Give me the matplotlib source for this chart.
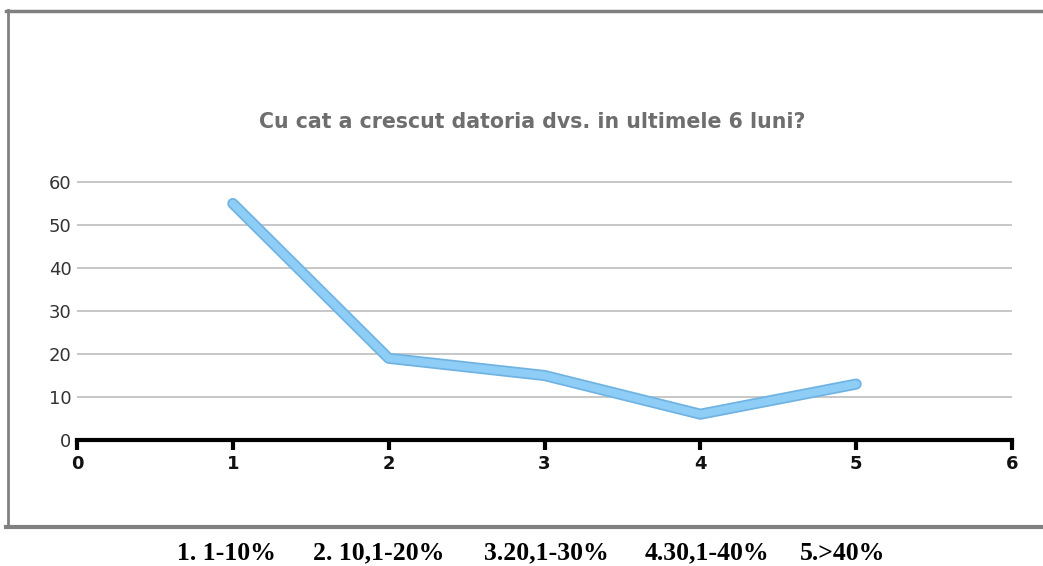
import matplotlib
matplotlib.use("Agg")
import matplotlib.pyplot as plt
from matplotlib.lines import Line2D

# Data
x_values = [1, 2, 3, 4, 5]
y_values = [55, 19, 15, 6, 13]
x_ticks = [0, 1, 2, 3, 4, 5, 6]
y_ticks = [0, 10, 20, 30, 40, 50, 60]
title = "Cu cat a crescut datoria dvs. in ultimele 6 luni?"
legend_labels = ["1. 1-10%", "2. 10,1-20%", "3.20,1-30%", "4.30,1-40%", "5.>40%"]

W, H = 1043, 566
fig = plt.figure(figsize=(W / 100, H / 100), dpi=100)
fig.patch.set_facecolor("white")

def fx(px):
    return px / W
def fy(py):
    return 1 - py / H

# Outer frame (gray border: top, left, bottom)
frame_color = "#808080"
fig.add_artist(Line2D([fx(6), fx(W + 5)], [fy(10.5), fy(10.5)], color=frame_color, lw=2.5, transform=fig.transFigure))
fig.add_artist(Line2D([fx(6), fx(W + 5)], [fy(526.5), fy(526.5)], color=frame_color, lw=3, transform=fig.transFigure))
fig.add_artist(Line2D([fx(8), fx(8)], [fy(10), fy(527)], color=frame_color, lw=2, transform=fig.transFigure))

# Axes: x 0..6 -> px 77..1012 ; y 0 -> px 440, per unit 4.3 px
ymax = 61
x0, x1 = 77, 1012
y0 = 440
ytop = y0 - ymax * 4.3
ax = fig.add_axes([fx(x0), fy(y0), (x1 - x0) / W, (y0 - ytop) / H])
ax.set_xlim(0, 6)
ax.set_ylim(0, ymax)
ax.set_facecolor("none")
for s in ["top", "right", "left"]:
    ax.spines[s].set_visible(False)
ax.spines["bottom"].set_linewidth(3)
ax.spines["bottom"].set_color("black")

for yv in y_ticks[1:]:
    ax.axhline(yv, color="#b8b8b8", lw=1.1, zorder=1)

ax.set_xticks(x_ticks)
ax.set_xticklabels([str(t) for t in x_ticks], fontsize=13, fontweight="bold", color="#111111")
ax.tick_params(axis="x", direction="out", length=7, width=3, color="black", pad=4)
ax.set_yticks(y_ticks)
ax.set_yticklabels([str(t) for t in y_ticks], fontsize=13, color="#333333")
ax.tick_params(axis="y", length=0, pad=4)

# Line: darker outline + light fill
ax.plot(x_values, y_values, color="#6fb3e3", lw=8, solid_capstyle="round", solid_joinstyle="round", zorder=3)
ax.plot(x_values, y_values, color="#8ecdf5", lw=5.5, solid_capstyle="round", solid_joinstyle="round", zorder=4)

# Title
fig.text(fx(532), fy(122), title, ha="center", va="center", fontsize=14.8, fontweight="bold", color="#6e6e6e")

# Bottom legend text
label_x = [177, 313, 484, 645, 800]
for lx, lab in zip(label_x, legend_labels):
    fig.text(fx(lx), fy(553), lab, ha="left", va="center", fontsize=18.5, fontweight="bold",
             family="Liberation Serif", color="black")

fig.savefig("out.png", dpi=100, facecolor="white")
